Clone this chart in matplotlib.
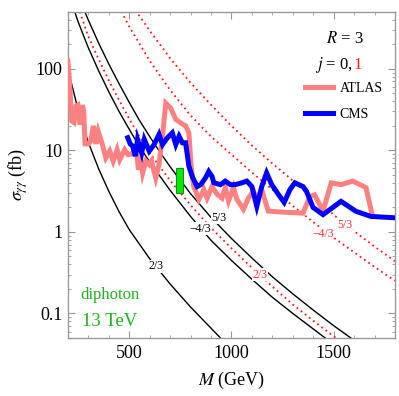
import numpy as np
import matplotlib
matplotlib.use("Agg")
import matplotlib.pyplot as plt
from matplotlib.patches import Rectangle
from matplotlib.ticker import FixedLocator, LogLocator, NullFormatter

plt.rcParams['font.family'] = ['Liberation Serif', 'DejaVu Serif']
plt.rcParams['mathtext.fontset'] = 'stix'

# ---------------- data ----------------
# theory curves, scalar (j=0, black) and vector (j=1, red), by charge
b23_M = [200, 250, 300, 350, 400, 450, 500, 600, 700, 800, 900, 950]
b23_s = [100, 31.6, 12.6, 6.0, 3.16, 1.78, 1.07, 0.47, 0.23, 0.12, 0.066, 0.049]

b43_M = [200, 250, 300, 350, 400, 450, 500, 550, 600, 700, 800, 900, 1000, 1100, 1200, 1300, 1400, 1500]
b43_s = [891, 380, 182, 95.5, 52.5, 30.2, 18.2, 11.2, 7.24, 3.24, 1.55, 0.79, 0.447, 0.263, 0.158, 0.100, 0.0646, 0.0417]

b53_M = [250, 300, 350, 400, 450, 500, 550, 600, 650, 700, 800, 900, 1000, 1100, 1200, 1300, 1400, 1500, 1600, 1700]
b53_s = [794, 398, 209, 115, 66.1, 38.9, 23.4, 14.8, 9.55, 6.31, 2.95, 1.51, 0.832, 0.479, 0.282, 0.174, 0.110, 0.0708, 0.0468, 0.0316]

r23_M = [250, 300, 350, 400, 450, 500, 550, 600, 700, 800, 900, 1000, 1100, 1200, 1300, 1400, 1500, 1600]
r23_s = [575, 251, 132, 72.4, 41.7, 24.5, 14.8, 9.33, 4.27, 2.14, 1.12, 0.631, 0.363, 0.214, 0.129, 0.0813, 0.0525, 0.0347]

r43_M = [450, 500, 600, 700, 800, 900, 1000, 1100, 1200, 1300, 1400, 1500, 1600, 1700, 1800]
r43_s = [575, 331, 126, 55.0, 26.9, 14.8, 8.91, 5.37, 3.31, 2.09, 1.32, 0.851, 0.562, 0.372, 0.251]

r53_M = [500, 550, 600, 700, 800, 900, 1000, 1100, 1200, 1300, 1400, 1500, 1600, 1700, 1800]
r53_s = [661, 447, 295, 135, 67.6, 36.3, 20.0, 11.5, 6.92, 4.27, 2.63, 1.62, 1.02, 0.661, 0.437]

# experimental limits
atlas_M = [200, 208, 219, 230, 240, 249, 258, 265, 271, 278, 284, 300, 312, 325, 338, 349, 368, 386,
           405, 422, 441, 454, 478, 494, 510, 535, 545, 558, 566, 582, 598, 609, 630, 646, 663, 679,
           703, 728, 760, 776, 792, 803, 816, 841, 865, 881, 905, 930, 954, 970, 986, 1010, 1027,
           1059, 1083, 1108, 1124, 1148, 1180, 1250, 1350, 1383, 1407, 1448, 1488, 1536, 1593,
           1658, 1690]
atlas_s = [125, 70, 23, 22, 35, 36, 22, 22, 36, 30, 12, 12, 13, 20, 12, 17, 12, 8.1,
           9.8, 7.4, 10.2, 7.7, 10.2, 8.9, 9.0, 10.5, 5.8, 7.4, 5.3, 7.4, 6.7, 7.4, 4.6, 6.7, 15, 38,
           33, 24, 21, 20, 16.4, 6.4, 3.6, 2.5, 3.3, 2.6, 3.6, 2.9, 2.6, 3.5, 2.4, 3.5, 2.5,
           1.9, 2.6, 3.15, 2.4, 3.3, 1.8, 1.75, 1.7, 2.7, 2.85, 1.8, 4.0, 3.8, 4.2,
           3.5, 1.55]

cms_M = [493, 505, 517, 530, 541, 561, 574, 598, 622, 646, 663, 687, 711, 728, 744, 760, 776, 792,
         808, 832, 850, 873, 889, 905, 914, 946, 970, 995, 1019, 1051, 1075, 1100, 1124, 1148,
         1172, 1197, 1229, 1258, 1286, 1310, 1350, 1367, 1399, 1448, 1536, 1609, 1682, 1800]
cms_s = [14.3, 12, 11.3, 8.5, 13.6, 9.3, 13.6, 9.8, 11.8, 15.7, 11.8, 14.3, 16.4, 11.8, 14.9, 12.4, 12.4, 6.4,
         4.8, 3.6, 3.8, 4.6, 5.5, 4.8, 4.0, 3.8, 4.2, 3.8, 3.8, 4.0, 4.2, 3.6, 2.06, 3.6,
         5.3, 3.8, 2.9, 2.3, 3.3, 4.0, 3.6, 3.15, 2.0, 1.63, 2.37, 1.79, 1.55, 1.49]

# diphoton excess box
excess_M = [731, 763]
excess_s = [3.0, 6.1]

x_ticks = [500, 1000, 1500]
y_ticks = [0.1, 1, 10, 100]
y_ticklabels = ['0.1', '1', '10', '100']

# ---------------- figure ----------------
fig = plt.figure(figsize=(3.99, 3.96), dpi=100)
ax = fig.add_axes([0.170, 0.1465, 0.820, 0.8235])
ax.set_xscale('linear')
ax.set_yscale('log')
ax.set_xlim(200, 1800)
ax.set_ylim(0.05, 500)

black_kw = dict(color='black', lw=1.0, zorder=2)
red_kw = dict(color='#ff1a1a', lw=1.3, ls=(0, (1.0, 1.9)), zorder=2)
ax.plot(b23_M, b23_s, **black_kw)
ax.plot(b43_M, b43_s, **black_kw)
ax.plot(b53_M, b53_s, **black_kw)
ax.plot(r23_M, r23_s, **red_kw)
ax.plot(r43_M, r43_s, **red_kw)
ax.plot(r53_M, r53_s, **red_kw)

atlas_line, = ax.plot(atlas_M, atlas_s, color='#ff8080', lw=3.6, solid_joinstyle='miter', zorder=4)
cms_line, = ax.plot(cms_M, cms_s, color='#0000ff', lw=3.6, solid_joinstyle='miter', zorder=5)

ax.add_patch(Rectangle((excess_M[0], excess_s[0]), excess_M[1] - excess_M[0], excess_s[1] - excess_s[0],
                       facecolor='#00ee00', edgecolor='#1a8a1a', lw=0.8, zorder=6))

# curve labels
lab_bbox = dict(boxstyle='square,pad=0.05', fc='white', ec='none')
lab_kw = dict(fontsize=8.5, ha='center', va='center', zorder=3, bbox=lab_bbox)
ax.text(630, 0.378, '2/3', color='black', **lab_kw)
ax.text(849, 1.09, '\u22124/3', color='black', **lab_kw)
ax.text(938, 1.49, '5/3', color='black', **lab_kw)
ax.text(1140, 0.30, '2/3', color='#ff3030', **lab_kw)
ax.text(1448, 0.93, '\u22124/3', color='#ff3030', **lab_kw)
ax.text(1553, 1.23, '5/3', color='#ff3030', **lab_kw)

# annotations
ax.text(0.128, 0.132, 'diphoton', transform=ax.transAxes, color='#20b020', fontsize=12,
        ha='center', va='center')
ax.text(0.128, 0.052, '13 TeV', transform=ax.transAxes, color='#20b020', fontsize=13.5,
        ha='center', va='center')
ax.text(0.847, 0.905, r'$R$ = 3', transform=ax.transAxes, fontsize=12, ha='center', va='baseline')
t1 = ax.text(0.755, 0.825, r'$j$ = 0, ', transform=ax.transAxes, fontsize=12, ha='left', va='baseline')
fig.canvas.draw()
bb = t1.get_window_extent()
x2 = ax.transAxes.inverted().transform((bb.x1, 0))[0]
ax.text(x2, 0.825, '1', transform=ax.transAxes, fontsize=12, ha='left', va='baseline', color='#ff1a1a')

leg = ax.legend([atlas_line, cms_line], ['ATLAS', 'CMS'], loc='upper left',
                bbox_to_anchor=(0.725, 0.785), frameon=False, fontsize=10,
                handlelength=2.0, handletextpad=0.5, labelspacing=0.95,
                borderpad=0, borderaxespad=0)

# axes styling
for sp in ax.spines.values():
    sp.set_color('#999999')
    sp.set_linewidth(1.0)
ax.xaxis.set_major_locator(FixedLocator(x_ticks))
ax.xaxis.set_minor_locator(FixedLocator(np.arange(200, 1801, 100)))
ax.set_xticklabels([str(v) for v in x_ticks])
ax.yaxis.set_major_locator(FixedLocator(y_ticks))
ax.set_yticklabels(y_ticklabels)
ax.yaxis.set_minor_locator(LogLocator(base=10, subs=np.arange(2, 10)))
ax.yaxis.set_minor_formatter(NullFormatter())
ax.tick_params(which='both', direction='in', top=True, right=True, color='#999999',
               labelsize=13, labelcolor='black')
ax.tick_params(which='major', length=5, width=0.8)
ax.tick_params(which='minor', length=2.5, width=0.6)
ax.tick_params(axis='y', pad=4)
ax.tick_params(axis='x', pad=5)

ax.set_xlabel(r'$M$ (GeV)', fontsize=13, labelpad=6)
ax.set_ylabel(r'$\sigma_{\gamma\gamma}$ (fb)', fontsize=13, labelpad=4)

fig.savefig('out.png', dpi=100)
